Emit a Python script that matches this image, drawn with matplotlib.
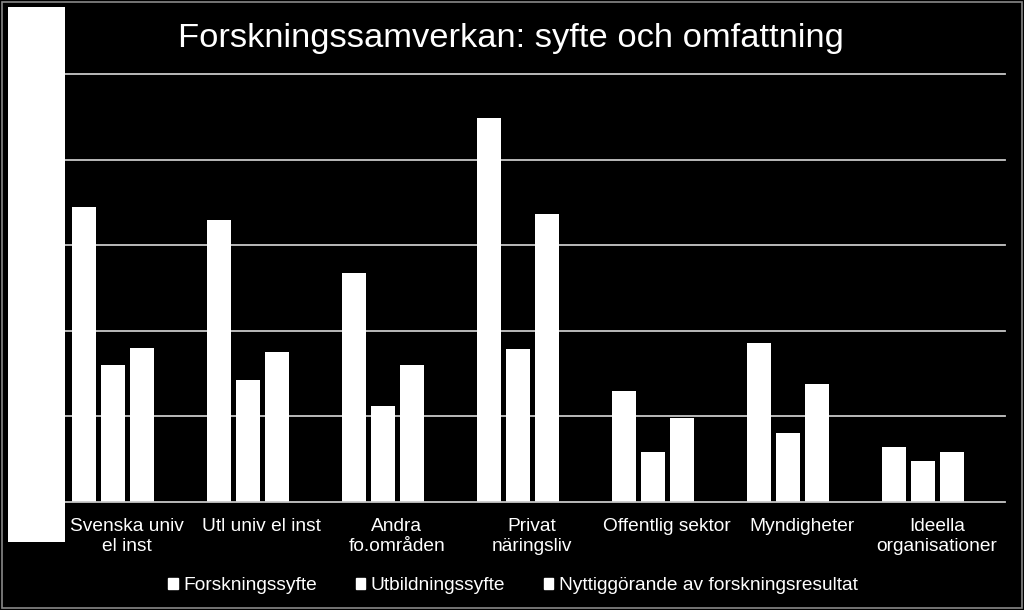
import matplotlib
matplotlib.use("Agg")
import matplotlib.pyplot as plt
import matplotlib.transforms as mtransforms
import numpy as np
from matplotlib.patches import Rectangle, Patch

plt.rcParams['font.family'] = ['Liberation Sans', 'DejaVu Sans']

categories = ["Svenska univ\nel inst", "Utl univ el inst", "Andra\nfo.områden",
              "Privat\nnäringsliv", "Offentlig sektor", "Myndigheter",
              "Ideella\norganisationer"]
series_names = ["Forskningssyfte", "Utbildningssyfte",
                "Nyttiggörande av forskningsresultat"]
forskning = [34.5, 33.0, 26.8, 44.9, 12.9, 18.6, 6.4]
utbildning = [16.0, 14.3, 11.2, 17.9, 5.8, 8.0, 4.8]
nyttig = [18.0, 17.5, 16.0, 33.7, 9.8, 13.8, 5.8]
grid_values = [10, 20, 30, 40, 50]
title = "Forskningssamverkan: syfte och omfattning"

W, H = 1024, 610
fig = plt.figure(figsize=(W / 100, H / 100), dpi=100, facecolor='black')

left, right = 65 / W, 1005 / W
bottom, top = (H - 501.7) / H, (H - 74.5) / H
ax = fig.add_axes([left, bottom, right - left, top - bottom])
ax.set_facecolor('black')

x = np.arange(len(categories))
step = 0.217
bw = 0.178
grid_col = '#c8c8c8'
for yv in grid_values:
    ax.axhline(yv, color=grid_col, lw=1.3, zorder=0, clip_on=False)
for i, vals in enumerate([forskning, utbildning, nyttig]):
    ax.bar(x + (i - 1) * step, vals, width=bw, color='white', zorder=2,
           label=series_names[i])

ax.set_xlim(-0.355, 6.608)
ax.set_ylim(0, 50)
for s in ['top', 'left', 'right']:
    ax.spines[s].set_visible(False)
ax.spines['bottom'].set_color(grid_col)
ax.spines['bottom'].set_linewidth(1.3)
ax.set_yticks([])
ax.set_xticks(x)
ax.set_xticklabels(categories, color='white', fontsize=13.8, linespacing=1.2)
ax.tick_params(axis='x', length=0, pad=12)
shift = mtransforms.ScaledTranslation(14 / 100, 0, fig.dpi_scale_trans)
for lbl in ax.get_xticklabels():
    lbl.set_transform(lbl.get_transform() + shift)

fig.text(510.5 / W, (H - 38) / H, title, color='white', fontsize=24.8,
         ha='center', va='center')

handles = [Patch(facecolor='white', edgecolor='white') for _ in series_names]
fig.legend(handles, series_names, loc='center', bbox_to_anchor=(513 / W, (H - 586) / H),
           ncol=3, frameon=False, fontsize=13.8, labelcolor='white',
           handlelength=0.5, handleheight=0.5, handletextpad=0.3,
           columnspacing=2.0)

# white block at left and outer border
fig.add_artist(Rectangle((8.3 / W, (H - 541.7) / H), (65 - 8.3) / W, (541.7 - 7) / H,
                         transform=fig.transFigure, facecolor='white',
                         edgecolor='none', zorder=5))
fig.add_artist(Rectangle((1.5 / W, (H - 607.5) / H), (1022 - 1.5) / W, (607.5 - 1.5) / H,
                         transform=fig.transFigure, facecolor='none',
                         edgecolor='#888888', lw=1.2, zorder=6))

fig.savefig('out.png', dpi=100, facecolor='black')
